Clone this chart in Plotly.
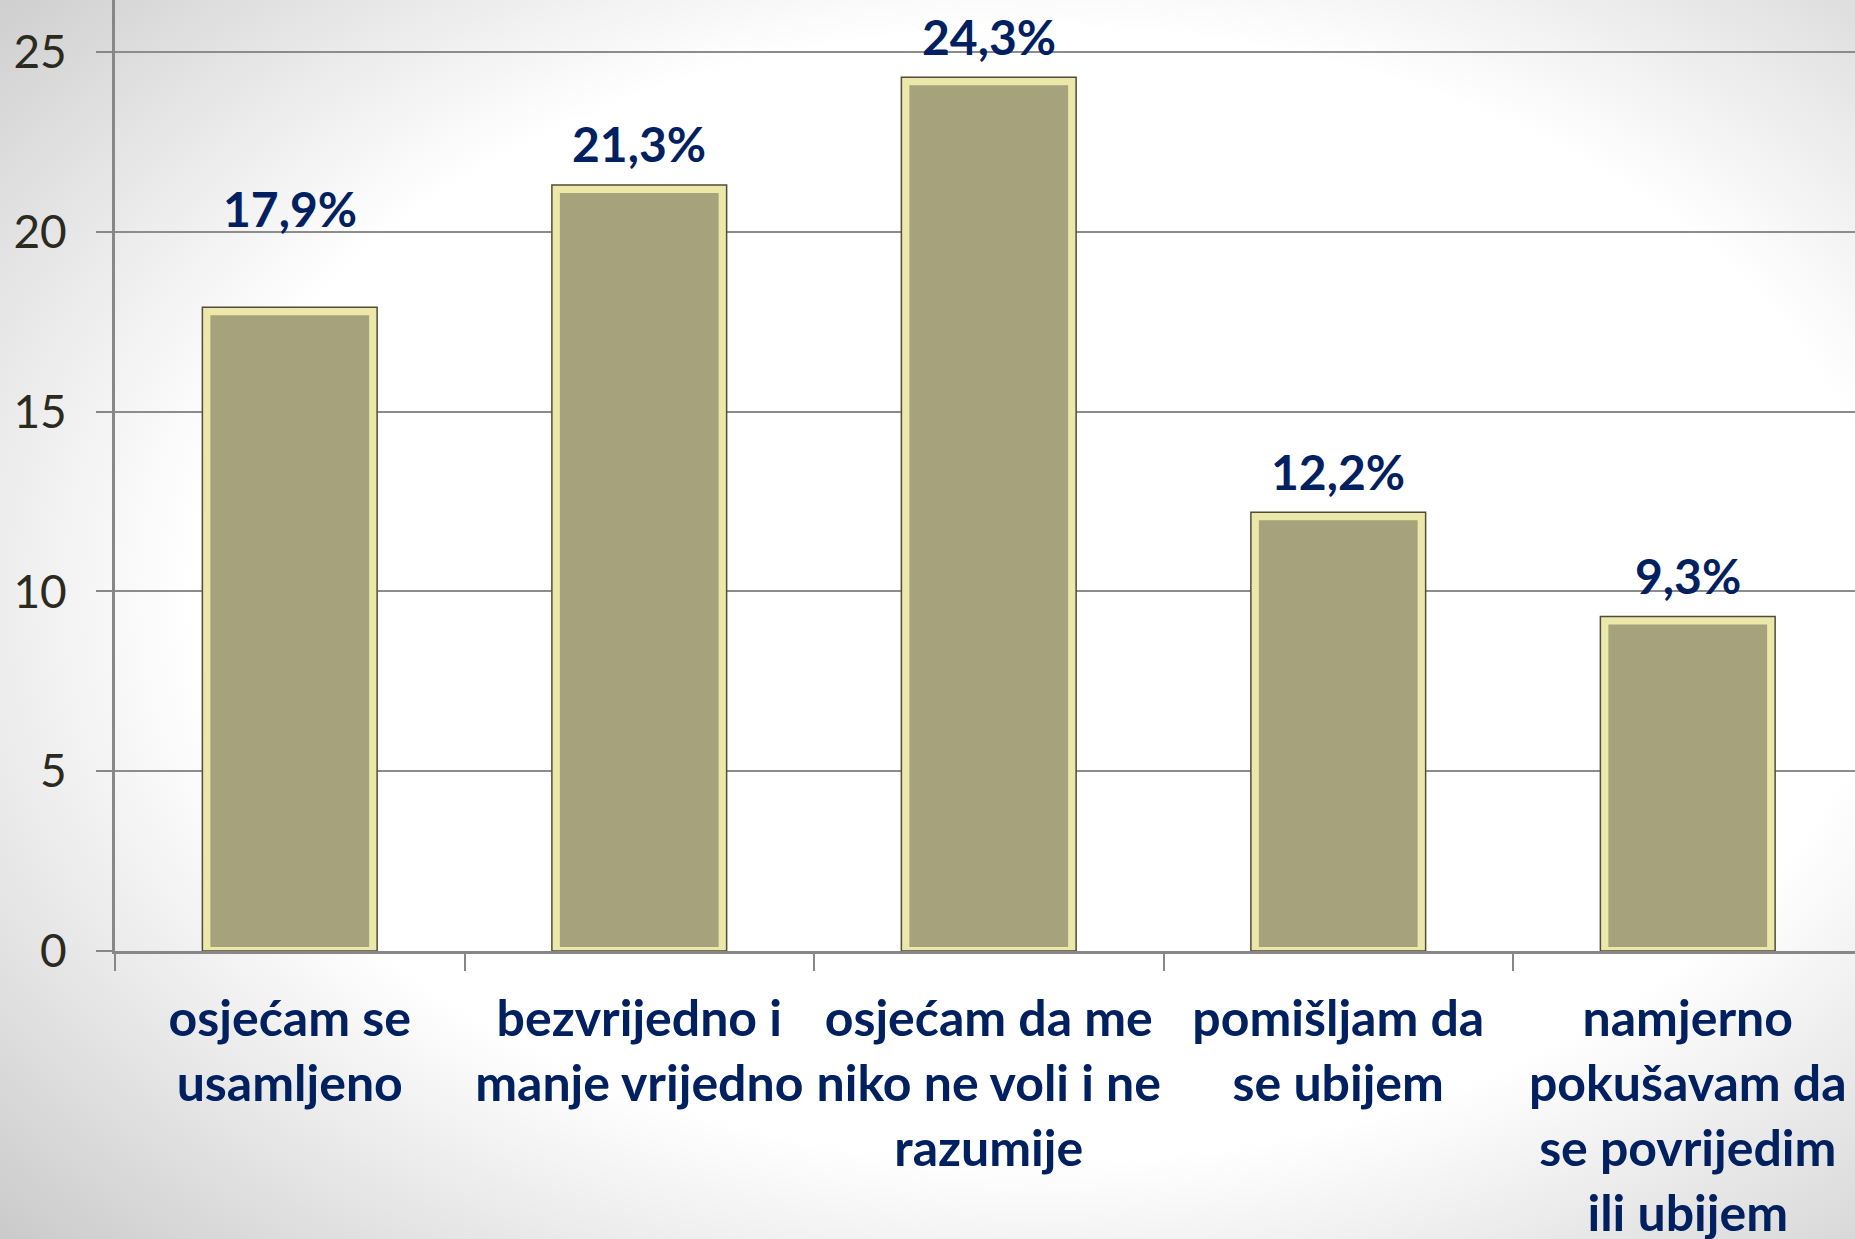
import base64
import plotly.graph_objects as go

categories = [
    "osjećam se<br>usamljeno",
    "bezvrijedno i<br>manje vrijedno",
    "osjećam da me<br>niko ne voli i ne<br>razumije",
    "pomišljam da<br>se ubijem",
    "namjerno<br>pokušavam da<br>se povrijedim<br>ili ubijem",
]
values = [17.9, 21.3, 24.3, 12.2, 9.3]
value_labels = ["17,9%", "21,3%", "24,3%", "12,2%", "9,3%"]
y_ticks = [0, 5, 10, 15, 20, 25]

W, H = 1855, 1239
ML, MT, MB, MR = 115, 0, 288, 0

NAVY = "#002060"

svg = f'''<svg xmlns="http://www.w3.org/2000/svg" width="{W}" height="{H}" viewBox="0 0 {W} {H}" preserveAspectRatio="none">
<defs><radialGradient id="g" cx="0.56" cy="0.48" r="0.76">
<stop offset="0.6" stop-color="#ffffff"/>
<stop offset="1" stop-color="#cbcbcb"/>
</radialGradient></defs>
<rect width="{W}" height="{H}" fill="url(#g)"/></svg>'''
bg_src = "data:image/svg+xml;base64," + base64.b64encode(svg.encode()).decode()

pw = W - ML - MR
ph = H - MT - MB
cat_px = 349.5
unit_px = 35.96
xmax = -0.5 + pw / cat_px
ymax = ph / unit_px

fig = go.Figure()

# outer bar (light bevel frame + dark outline)
fig.add_trace(go.Bar(
    x=categories, y=values, width=0.5,
    marker=dict(color="#ece8aa", line=dict(color="#4f4c3a", width=1.5)),
    hoverinfo="skip", showlegend=False,
))
# inner face
inset_top = 8 / unit_px
inset_bot = 4 / unit_px
fig.add_trace(go.Bar(
    x=categories, y=[v - inset_top - inset_bot for v in values],
    base=inset_bot, width=0.5 - 16 / cat_px,
    marker=dict(color="#a6a27b", line=dict(width=0)),
    hoverinfo="skip", showlegend=False,
))

label_shift = [99, 42, 41, 41, 41]
for i, (c, v, t) in enumerate(zip(categories, values, value_labels)):
    fig.add_annotation(
        x=c, y=v, text=t, showarrow=False,
        yanchor="middle", xanchor="center", yshift=label_shift[i],
        font=dict(family="Lato", size=48, color=NAVY, weight="bold"),
    )

fig.update_layout(
    width=W, height=H,
    margin=dict(l=ML, r=MR, t=MT, b=MB, pad=0, autoexpand=False),
    barmode="overlay",
    paper_bgcolor="white",
    plot_bgcolor="rgba(0,0,0,0)",
    images=[dict(
        source=bg_src, xref="paper", yref="paper",
        x=-ML / pw, y=1 + MT / ph, sizex=W / pw, sizey=H / ph,
        xanchor="left", yanchor="top", sizing="stretch", layer="below",
    )],
    xaxis=dict(
        range=[-0.5, xmax], automargin=False, tickangle=0,
        showgrid=False, showline=True, linecolor="#878787", linewidth=3,
        ticks="outside", tickson="boundaries", ticklen=17, tickwidth=2, tickcolor="#878787",
        tickfont=dict(family="Lato", size=50, color=NAVY, weight="bold"),
        ticklabelstandoff=22,
        zeroline=False,
    ),
    yaxis=dict(
        range=[0, ymax], tickvals=y_ticks, automargin=False,
        showgrid=True, gridcolor="#8c8c8c", gridwidth=2,
        showline=True, linecolor="#878787", linewidth=3,
        ticks="outside", ticklen=16, tickwidth=2, tickcolor="#878787",
        tickfont=dict(family="Lato", size=46, color="#2a2a1e"),
        ticklabelstandoff=20,
        zeroline=False,
    ),
)

fig.write_html(
    "out.html",
    config={"displayModeBar": False},
    post_script="document.body.style.margin='0';document.body.style.overflow='hidden';",
)
